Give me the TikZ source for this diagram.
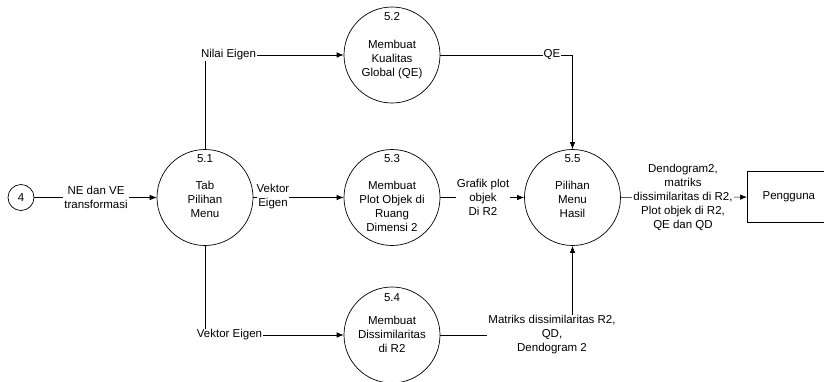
\documentclass[tikz,border=0pt]{standalone}
\usepackage{fontspec}
\setmainfont{Liberation Sans}
\usetikzlibrary{arrows.meta}
\begin{document}
\begin{tikzpicture}[x=1pt,y=-1pt,
  font=\fontsize{11.5}{14}\selectfont,
  proc/.style={draw, circle, minimum size=96pt, inner sep=0pt, line width=0.7pt},
  flow/.style={line width=0.7pt, -{Latex[length=7pt,width=5.5pt]}},
  lbl/.style={fill=white, align=center, inner sep=1pt},
  txt/.style={align=center, inner sep=0pt},
]
\useasboundingbox (0,0) rectangle (824,381);

% processes
\node[proc] (c51) at (205,197.5) {};
\node[proc] (c52) at (392,55) {};
\node[proc] (c53) at (392,197.5) {};
\node[proc] (c54) at (392,335) {};
\node[proc] (c55) at (572.5,197.5) {};
\node[draw, circle, minimum size=26pt, inner sep=0pt, line width=0.7pt] (c4) at (21,197.5) {4};
\node[draw, line width=0.7pt, anchor=west, minimum width=83pt, minimum height=51pt] (peng) at (747,197) {Pengguna};

% process texts
\node[txt] (n51) at (205,159) {5.1};
\node[txt, anchor=north] (b51) at (205,181) {Tab\\Pilihan\\Menu};
\node[txt] (n52) at (392,17) {5.2};
\node[txt, anchor=north] (b52) at (392,40) {Membuat\\Kualitas\\Global (QE)};
\node[txt] (n53) at (392,159) {5.3};
\node[txt, anchor=north] (b53) at (392,181) {Membuat\\Plot Objek di\\Ruang\\Dimensi 2};
\node[txt] (n54) at (392,298) {5.4};
\node[txt, anchor=north] (b54) at (392,316) {Membuat\\Dissimilaritas\\di R2};
\node[txt] (n55) at (572.5,159) {5.5};
\node[txt, anchor=north] (b55) at (572.5,181) {Pilihan\\Menu\\Hasil};

% flows
\draw[flow] (c4) -- (c51);
\draw[flow] (c51.north) |- (c52.west);
\draw[flow] (c51) -- (c53);
\draw[flow] (c51.south) |- (c54.west);
\draw[flow] (c52.east) -| (c55.north);
\draw[flow] (c53) -- (c55);
\draw[flow] (c54.east) -| (c55.south);
\draw[flow] (c55) -- (peng);

% flow labels
\node[lbl] (l1) at (96,197) {NE dan VE\\transformasi};
\node[lbl] (l2) at (228.5,55) {Nilai Eigen};
\node[lbl, inner sep=0pt] (l3) at (273,197) {Vektor\\Eigen};
\node[lbl] (l4) at (229.5,335) {Vektor Eigen};
\node[lbl] (l5) at (552,55) {QE};
\node[lbl] (l6) at (483,197) {Grafik plot\\objek\\Di R2};
\node[lbl] (l7) at (552,335) {Matriks dissimilaritas R2,\\QD,\\Dendogram 2};
\node[lbl] (l8) at (683,197) {Dendogram2,\\matriks\\dissimilaritas di R2,\\Plot objek di R2,\\QE dan QD};
\end{tikzpicture}
\end{document}
